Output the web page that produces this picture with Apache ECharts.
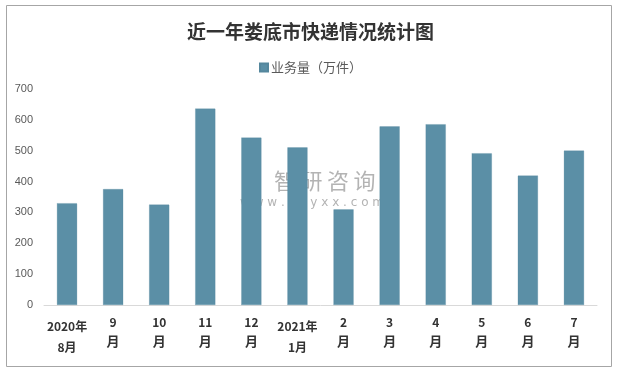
<!DOCTYPE html>
<html>
<head>
<meta charset="utf-8">
<script src="https://cdn.jsdelivr.net/npm/echarts@6/dist/echarts.min.js"></script>
<style>
html,body{margin:0;padding:0;background:#fff;}
#chart{width:621px;height:374px;}
</style>
</head>
<body>
<div id="chart"></div>
<script>
const titleText = '近一年娄底市快递情况统计图';
const seriesName = '业务量（万件）';
const yearLabels = ['2020年', '', '', '', '', '2021年', '', '', '', '', '', ''];
const monthLabels = ['8', '9', '10', '11', '12', '1', '2', '3', '4', '5', '6', '7'];
const values = [330, 376, 326, 637, 543, 511, 310, 579, 586, 492, 420, 501];
const yTicks = [0, 100, 200, 300, 400, 500, 600, 700];
const watermarkChars = ['智', '研', '咨', '询'];
const watermarkUrl = 'w w w . c h y x x . c o m';

const categories = monthLabels.map((m, i) => yearLabels[i] + m + '月');

const chart = echarts.init(document.getElementById('chart'), null, {renderer: 'canvas'});
const font = "'Noto Sans CJK SC', 'Noto Sans', sans-serif";
const wmFill = 'rgba(160,160,160,0.8)';
const wmChildren = [
  {type: 'rect', shape: {x: 243, y: 173, width: 9, height: 7}, style: {fill: 'rgba(70,130,190,0.7)'}},
  {type: 'rect', shape: {x: 243, y: 181, width: 5, height: 6}, style: {fill: 'rgba(70,130,190,0.7)'}},
  {type: 'rect', shape: {x: 250, y: 181, width: 10, height: 6}, style: {fill: 'rgba(120,175,225,0.7)'}},
  {type: 'text', style: {x: 240, y: 203, text: watermarkUrl, font: "12px 'DejaVu Sans', sans-serif", fill: wmFill, textVerticalAlign: 'middle'}}
];
watermarkChars.forEach((c, i) => {
  wmChildren.push({type: 'text', style: {x: 274 + i * 26.5, y: 181, text: c, font: "22px 'Noto Sans CJK SC', sans-serif", fill: wmFill, textVerticalAlign: 'middle'}});
});

chart.setOption({
  backgroundColor: '#ffffff',
  animation: false,
  title: {
    text: titleText,
    left: 'center',
    top: 17,
    textStyle: {fontFamily: font, fontSize: 19, fontWeight: 'bold', color: '#333'}
  },
  legend: {
    data: [seriesName],
    top: 56,
    left: 'center',
    itemWidth: 8,
    itemHeight: 8,
    itemGap: 4,
    icon: 'rect',
    textStyle: {fontFamily: font, fontSize: 13, color: '#595959', padding: [0, 0, 0, -2]}
  },
  grid: {left: 44, right: 24, top: 89, bottom: 69, containLabel: false},
  xAxis: {
    type: 'category',
    data: categories,
    axisLine: {lineStyle: {color: '#d9d9d9', width: 1}},
    axisTick: {show: false},
    axisLabel: {
      interval: 0,
      margin: 11,
      verticalAlign: 'top',
      formatter: function (v, i) {
        if (yearLabels[i]) {
          return '{y|' + yearLabels[i] + '}\n{y|' + monthLabels[i] + '月}';
        }
        return '{d|' + monthLabels[i] + '}\n{m|月}';
      },
      rich: {
        y: {fontFamily: font, fontSize: 12, fontWeight: 'bold', color: '#333', lineHeight: 21},
        d: {fontFamily: font, fontSize: 12, fontWeight: 'bold', color: '#333', lineHeight: 13},
        m: {fontFamily: font, fontSize: 13, fontWeight: 'bold', color: '#333', lineHeight: 25}
      }
    }
  },
  yAxis: {
    type: 'value',
    min: yTicks[0],
    max: yTicks[yTicks.length - 1],
    interval: 100,
    splitLine: {show: false},
    axisLine: {show: false},
    axisTick: {show: false},
    axisLabel: {fontFamily: "'Liberation Sans', Arial, sans-serif", fontSize: 11, color: '#595959', margin: 11}
  },
  series: [{
    name: seriesName,
    type: 'bar',
    data: values,
    barCategoryGap: '56%',
    itemStyle: {color: '#5b8fa6', borderColor: '#55879d', borderWidth: 0.5, borderType: 'dotted'}
  }],
  graphic: [
    {type: 'rect', shape: {x: 6.5, y: 5.5, width: 605, height: 361}, style: {fill: 'none', stroke: '#a6a6a6', lineWidth: 1}, z: 0, silent: true},
    {type: 'group', z: 100, silent: true, children: wmChildren}
  ]
});
</script>
</body>
</html>
